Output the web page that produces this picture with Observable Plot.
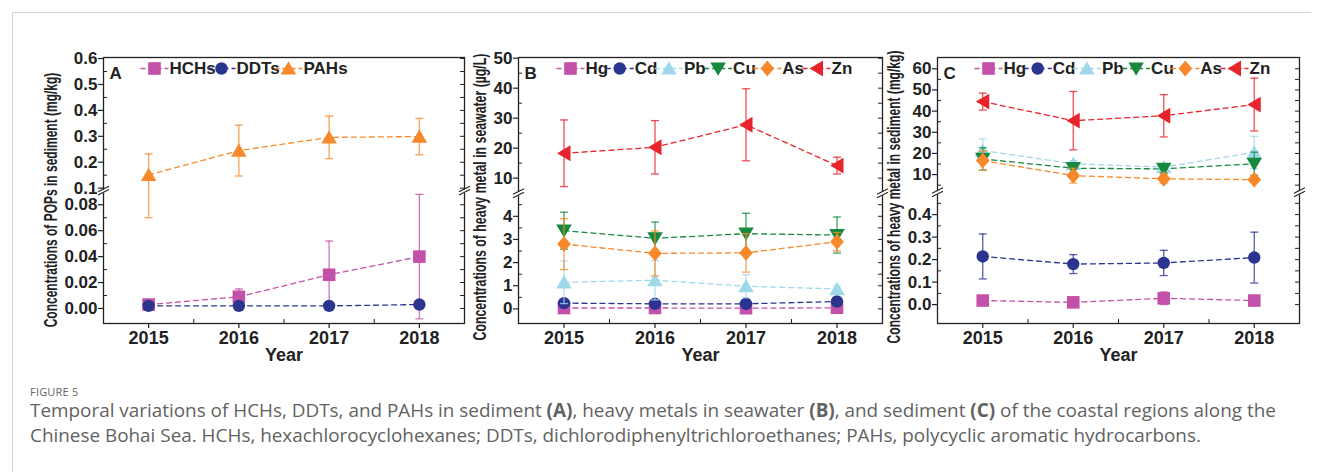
<!DOCTYPE html>
<html><head><meta charset="utf-8">
<script src="https://cdn.jsdelivr.net/npm/d3@7"></script>
<script src="https://cdn.jsdelivr.net/npm/@observablehq/plot@0.6"></script>
<style>
body{margin:0;background:#fff;}
#root{position:relative;width:1322px;height:472px;overflow:hidden;}
#frame{position:absolute;left:12px;top:12px;width:1298px;height:470px;border-top:1px solid #d6d6d6;border-left:1px solid #d6d6d6;}
.panel{position:absolute;top:0;}
#cap-label{position:absolute;left:30px;top:384px;font:11px "Open Sans",sans-serif;color:#666;letter-spacing:0.2px;}
#cap-text{position:absolute;left:30px;top:398px;font:18.9px/25px "Open Sans",sans-serif;color:#626262;white-space:nowrap;}
</style></head>
<body>
<div id="root">
  <div id="frame"></div>
  <div id="pA" class="panel"></div>
  <div id="pB" class="panel"></div>
  <div id="pC" class="panel"></div>
  <div id="cap-label">FIGURE 5</div>
  <div id="cap-text">Temporal variations of HCHs, DDTs, and PAHs in sediment <b>(A)</b>, heavy metals in seawater <b>(B)</b>, and sediment <b>(C)</b> of the coastal regions along the<br>Chinese Bohai Sea. HCHs, hexachlorocyclohexanes; DDTs, dichlorodiphenyltrichloroethanes; PAHs, polycyclic aromatic hydrocarbons.</div>
</div>
<script>
// ---------------- data ----------------
const years = [2015, 2016, 2017, 2018];

// Panel A: POPs in sediment (mg/kg)
const hchsMean = [0.003, 0.009, 0.026, 0.040];
const hchsSd   = [0.001, 0.006, 0.026, 0.048];
const ddtsMean = [0.002, 0.002, 0.002, 0.003];
const ddtsSd   = [0.001, 0.001, 0.001, 0.001];
const pahsMean = [0.151, 0.245, 0.296, 0.299];
const pahsSd   = [0.081, 0.098, 0.082, 0.070];

// Panel B: heavy metals in seawater (µg/L)
const hgWMean = [0.04, 0.04, 0.03, 0.05];
const hgWSd   = [0.02, 0.02, 0.02, 0.02];
const cdWMean = [0.25, 0.22, 0.22, 0.32];
const cdWSd   = [0.08, 0.06, 0.06, 0.05];
const pbWMean = [1.15, 1.24, 0.98, 0.86];
const pbWSd   = [0.92, 0.85, 0.50, 0.12];
const cuWMean = [3.38, 3.05, 3.25, 3.19];
const cuWSd   = [0.80, 0.70, 0.88, 0.78];
const asWMean = [2.80, 2.40, 2.42, 2.90];
const asWSd   = [1.10, 0.97, 0.83, 0.40];
const znWMean = [18.3, 20.3, 27.8, 14.2];
const znWSd   = [11.1, 8.9, 12.0, 2.8];

// Panel C: heavy metals in sediment (mg/kg)
const hgSMean = [0.018, 0.010, 0.028, 0.018];
const hgSSd   = [0.006, 0.006, 0.028, 0.006];
const cdSMean = [0.214, 0.180, 0.185, 0.209];
const cdSSd   = [0.100, 0.042, 0.056, 0.113];
const pbSMean = [21.4, 15.1, 13.5, 20.5];
const pbSSd   = [5.5, 1.5, 1.5, 7.6];
const cuSMean = [17.4, 13.0, 12.7, 15.1];
const cuSSd   = [5.3, 2.0, 2.0, 5.5];
const asSMean = [16.6, 9.5, 8.0, 7.6];
const asSSd   = [4.5, 3.5, 2.0, 1.0];
const znSMean = [44.5, 35.5, 37.8, 43.1];
const znSSd   = [4.0, 13.8, 10.0, 12.5];

// tick values / labels
const ticksA = [0, 0.02, 0.04, 0.06, 0.08, 0.1, 0.2, 0.3, 0.4, 0.5, 0.6];
const tickLabelsA = ["0.00","0.02","0.04","0.06","0.08","0.1","0.2","0.3","0.4","0.5","0.6"];
const minorA = [0.01, 0.03, 0.05, 0.07, 0.15, 0.25, 0.35, 0.45, 0.55];
const ticksB = [0, 1, 2, 3, 4, 10, 20, 30, 40, 50];
const tickLabelsB = ["0","1","2","3","4","10","20","30","40","50"];
const minorB = [0.5, 1.5, 2.5, 3.5, 4.5, 15, 25, 35, 45];
const ticksC = [0, 0.1, 0.2, 0.3, 0.4, 10, 20, 30, 40, 50, 60];
const tickLabelsC = ["0.0","0.1","0.2","0.3","0.4","10","20","30","40","50","60"];
const minorC = [0.05, 0.15, 0.25, 0.35, 0.45, 5, 15, 25, 35, 45, 55];
const minorYears = [2015.5, 2016.5, 2017.5];

// ---------------- styling ----------------
const MAG = "#c451a9", NAVY = "#2b3590", ORG = "#f7892b", LBLUE = "#9fd9e9", GRN = "#17893f", RED = "#e8232b";
const rad = size => Math.sqrt(size / Math.PI);
const symSquare = {draw(c, s) { const r = rad(s); c.rect(-r, -r, 2 * r, 2 * r); }};
const symUp = {draw(c, s) { const r = rad(s); c.moveTo(0, -r); c.lineTo(1.08 * r, 0.85 * r); c.lineTo(-1.08 * r, 0.85 * r); c.closePath(); }};
const symDown = {draw(c, s) { const r = rad(s); c.moveTo(0, r); c.lineTo(1.08 * r, -0.85 * r); c.lineTo(-1.08 * r, -0.85 * r); c.closePath(); }};
const symDiamond = {draw(c, s) { const r = rad(s); c.moveTo(0, -1.1 * r); c.lineTo(0.95 * r, 0); c.lineTo(0, 1.1 * r); c.lineTo(-0.95 * r, 0); c.closePath(); }};
const symLeft = {draw(c, s) { const r = rad(s); c.moveTo(-0.95 * r, 0); c.lineTo(0.9 * r, -1.1 * r); c.lineTo(0.9 * r, 1.1 * r); c.closePath(); }};
const symHLine = {draw(c, s) { const r = rad(s); c.moveTo(-r, 0); c.lineTo(r, 0); }};
const symBreakGap = {draw(c, s) { c.moveTo(-2.5, 0.2); c.lineTo(2.5, -2.3); c.lineTo(2.5, 1.2); c.lineTo(-2.5, 3.7); c.closePath(); }};
const symBreak = {draw(c, s) { c.moveTo(-5.5, 1.2); c.lineTo(5.5, -4.3); c.moveTo(-5.5, 4.6); c.lineTo(5.5, -0.9); }};

const SQ = {symbol: symSquare, r: 6.3}, CI = {symbol: "circle", r: 6.2}, UP = {symbol: symUp, r: 7.2},
      DN = {symbol: symDown, r: 7.2}, DI = {symbol: symDiamond, r: 7.2}, LE = {symbol: symLeft, r: 7.2};

const panels = [
  {el: "pA", id: "A", left: 0, width: 470, ml: 103, mr: 6,
   lo: -0.0116, b1: 0.091, b2: 0.091, hi: 0.604, frac: 0.5,
   ticks: ticksA, tickLabels: tickLabelsA, minor: minorA,
   title: "Concentrations of POPs in sediment (mg/kg)", tlen: 255, tdx: -53, tdy: 9.5,
   legX: 51, legStep: 67,
   series: [
     {name: "HCHs", mean: hchsMean, sd: hchsSd, color: MAG, ...SQ},
     {name: "DDTs", mean: ddtsMean, sd: ddtsSd, color: NAVY, ...CI},
     {name: "PAHs", mean: pahsMean, sd: pahsSd, color: ORG, ...UP}
   ]},
  {el: "pB", id: "B", left: 466, width: 420, ml: 52, mr: 4,
   lo: -0.63, b1: 5, b2: 5, hi: 50.23, frac: 0.49,
   ticks: ticksB, tickLabels: tickLabelsB, minor: minorB,
   title: "Concentrations of heavy metal in seawater (µg/L)", tlen: 287, tdx: -39, tdy: 6.5,
   legX: 52, legStep: 49.2,
   series: [
     {name: "Hg", mean: hgWMean, sd: hgWSd, color: MAG, ...SQ},
     {name: "Cd", mean: cdWMean, sd: cdWSd, color: NAVY, ...CI},
     {name: "Pb", mean: pbWMean, sd: pbWSd, color: LBLUE, ...UP},
     {name: "Cu", mean: cuWMean, sd: cuWSd, color: GRN, ...DN},
     {name: "As", mean: asWMean, sd: asWSd, color: ORG, ...DI},
     {name: "Zn", mean: znWMean, sd: znWSd, color: RED, ...LE}
   ]},
  {el: "pC", id: "C", left: 878, width: 444, ml: 59, mr: 23,
   lo: -0.084, b1: 0.5, b2: 1.72, hi: 65.35, frac: 0.494,
   ticks: ticksC, tickLabels: tickLabelsC, minor: minorC,
   title: "Concentrations of heavy metal in sediment (mg/kg)", tlen: 293, tdx: -44, tdy: 6.5,
   legX: 51, legStep: 49.2,
   series: [
     {name: "Hg", mean: hgSMean, sd: hgSSd, color: MAG, ...SQ},
     {name: "Cd", mean: cdSMean, sd: cdSSd, color: NAVY, ...CI},
     {name: "Pb", mean: pbSMean, sd: pbSSd, color: LBLUE, ...UP},
     {name: "Cu", mean: cuSMean, sd: cuSSd, color: GRN, ...DN},
     {name: "As", mean: asSMean, sd: asSSd, color: ORG, ...DI},
     {name: "Zn", mean: znSMean, sd: znSSd, color: RED, ...LE}
   ]}
];

const HEIGHT = 372, MT = 57, MB = 49;
const XDOM = [2014.5, 2018.5];

function makePanel(cfg) {
  // broken-axis mapping: value -> position in [0,1] along the y scale
  const f = v => v <= cfg.b1 ? (v - cfg.lo) / (cfg.b1 - cfg.lo) * cfg.frac
    : v < cfg.b2 ? cfg.frac : cfg.frac + (v - cfg.b2) / (cfg.hi - cfg.b2) * (1 - cfg.frac);
  const innerW = cfg.width - cfg.ml - cfg.mr, innerH = HEIGHT - MT - MB;
  const labelMap = new Map(cfg.ticks.map((t, i) => [f(t), cfg.tickLabels[i]]));
  const ink = "#222";
  const T = {lineAnchor: "middle", fontWeight: "bold", fill: ink};
  const marks = [];

  // minor (inward) ticks left, right edge ticks inward, bottom minor inward
  marks.push(Plot.tickY(cfg.minor.map(f), {y: d => d, insetRight: innerW - 4, stroke: ink, strokeWidth: 1}));
  marks.push(Plot.tickY(cfg.ticks.concat(cfg.minor).map(f), {y: d => d, insetLeft: innerW - 4, stroke: ink, strokeWidth: 1}));
  marks.push(Plot.tickX(minorYears, {x: d => d, insetTop: innerH - 4, stroke: ink, strokeWidth: 1}));

  // series
  for (const s of cfg.series) {
    const rows = years.map((yr, i) => ({year: yr, v: s.mean[i], sd: s.sd[i]}));
    marks.push(Plot.line(rows, {x: "year", y: d => f(d.v), stroke: s.color, strokeWidth: 1.3, strokeDasharray: "5,4"}));
    marks.push(Plot.ruleX(rows, {x: "year", y1: d => f(d.v - d.sd), y2: d => f(d.v + d.sd), stroke: s.color, strokeWidth: 1.3, strokeOpacity: 0.8}));
    marks.push(Plot.dot(rows, {x: "year", y: d => f(d.v - d.sd), symbol: symHLine, r: 4, stroke: s.color, fill: "none", strokeWidth: 1.3, strokeOpacity: 0.8}));
    marks.push(Plot.dot(rows, {x: "year", y: d => f(d.v + d.sd), symbol: symHLine, r: 4, stroke: s.color, fill: "none", strokeWidth: 1.3, strokeOpacity: 0.8}));
    marks.push(Plot.dot(rows, {x: "year", y: d => f(d.v), symbol: s.symbol, r: s.r, fill: s.color, stroke: "none"}));
  }

  marks.push(Plot.frame({stroke: ink, strokeWidth: 1.3}));

  // axis break marks on both edges
  marks.push(Plot.dot(XDOM, {x: d => d, y: () => cfg.frac, symbol: symBreakGap, r: 5, fill: "white", stroke: "none"}));
  marks.push(Plot.dot(XDOM, {x: d => d, y: () => cfg.frac, symbol: symBreak, r: 5, fill: "none", stroke: ink, strokeWidth: 1.1}));

  // axes
  marks.push(Plot.axisY({ticks: cfg.ticks.map(f), tickFormat: v => labelMap.get(v), tickSize: 5, tickPadding: 1,
    fontSize: 17, fontWeight: "bold", label: null, strokeWidth: 1.2}));
  marks.push(Plot.axisX({ticks: years, tickFormat: d => String(d), tickSize: 5, tickPadding: 3,
    fontSize: 18, fontWeight: "bold", label: null, strokeWidth: 1.2}));

  // titles
  marks.push(Plot.text(["Year"], {...T, frameAnchor: "bottom", dy: 32, textAnchor: "middle", fontSize: 18}));
  marks.push(Plot.text([cfg.title], {...T, frameAnchor: "left", dx: cfg.tdx, dy: cfg.tdy, rotate: -90, textAnchor: "middle", fontSize: 19}));
  marks.push(Plot.text([cfg.id], {...T, frameAnchor: "top-left", dx: 6, dy: 16.5, textAnchor: "start", fontSize: 17}));

  // legend
  cfg.series.forEach((s, i) => {
    const dx = cfg.legX + i * cfg.legStep, dy = 11;
    marks.push(Plot.text([s.name], {...T, frameAnchor: "top-left", dx: dx + 15, dy, textAnchor: "start", fontSize: 17}));
    marks.push(Plot.dot([s], {frameAnchor: "top-left", dx, dy, symbol: symHLine, r: 14, stroke: s.color, fill: "none", strokeWidth: 1.3, strokeDasharray: "5,3"}));
    marks.push(Plot.dot([s], {frameAnchor: "top-left", dx, dy, symbol: s.symbol, r: s.r, fill: s.color, stroke: "none"}));
  });

  const svg = Plot.plot({
    width: cfg.width, height: HEIGHT,
    marginTop: MT, marginBottom: MB, marginLeft: cfg.ml, marginRight: cfg.mr,
    x: {domain: XDOM}, y: {domain: [0, 1]},
    style: {fontFamily: "'Liberation Sans', Arial, Helvetica, sans-serif", fontSize: "17px", fontWeight: "bold",
            background: "none", overflow: "visible", color: ink},
    marks
  });
  const host = document.getElementById(cfg.el);
  host.style.left = cfg.left + "px";
  host.appendChild(svg);
  // compress the y-axis title horizontally (condensed look of the original)
  d3.select(svg).selectAll("text").filter(function () { return this.textContent === cfg.title; })
    .each(function () {
      const len = this.getComputedTextLength();
      const t = this.getAttribute("transform") || "";
      if (len > 0 && t.includes("rotate")) this.setAttribute("transform", t + ` scale(${cfg.tlen / len},1)`);
    });
}

panels.forEach(makePanel);
</script>
</body></html>
